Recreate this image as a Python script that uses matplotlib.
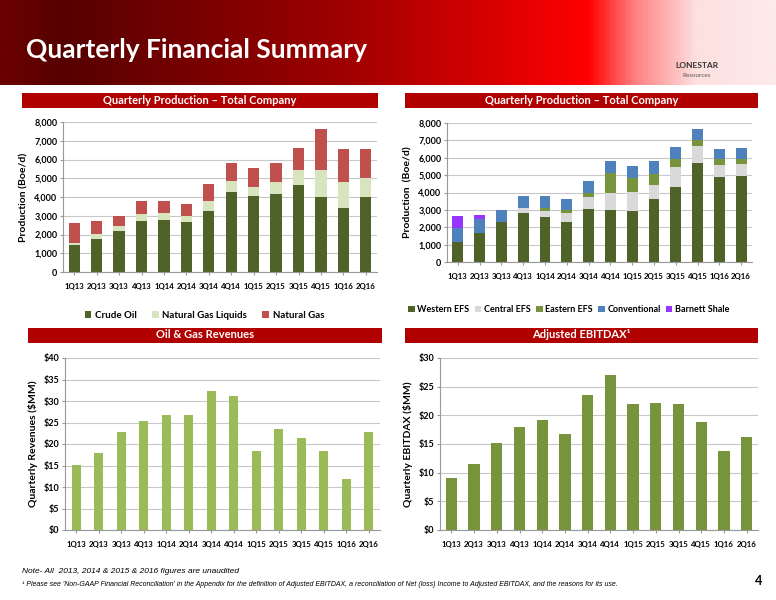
import matplotlib
matplotlib.use("Agg")
import matplotlib.pyplot as plt
import numpy as np
from matplotlib.colors import LinearSegmentedColormap
from matplotlib.patches import Rectangle

plt.rcParams['font.family'] = ['Lato', 'DejaVu Sans']

quarters = ['1Q13','2Q13','3Q13','4Q13','1Q14','2Q14','3Q14','4Q14','1Q15','2Q15','3Q15','4Q15','1Q16','2Q16']

crude = [1450,1750,2180,2730,2770,2650,3270,4280,4050,4170,4640,4020,3430,3980]
ngl = [100,280,270,370,360,350,510,550,510,630,810,1430,1370,1050]
natgas = [1070,670,550,700,670,630,920,970,970,1000,1150,2200,1750,1520]

western = [1150,1680,2280,2820,2580,2280,3040,3000,2950,3630,4290,5700,4870,4950]
central = [0,0,0,280,340,520,710,950,1070,820,1160,950,710,700]
eastern = [0,0,0,0,210,220,230,1150,810,630,500,400,370,300]
conventional = [830,800,720,680,690,580,670,720,720,740,650,580,580,610]
barnett = [660,240,0,0,0,0,0,0,0,0,0,0,0,0]

revenues = [15.2,18.0,22.9,25.4,26.8,26.7,32.3,31.1,18.4,23.5,21.5,18.4,11.8,22.7]
ebitdax = [9.0,11.5,15.2,18.0,19.2,16.8,23.6,27.0,22.0,22.2,21.9,18.9,13.7,16.2]

W, H = 776, 600
fig = plt.figure(figsize=(7.76, 6.0), dpi=100)
fig.patch.set_facecolor('white')

hax = fig.add_axes([0, 1-85/H, 1, 85/H])
cmap = LinearSegmentedColormap.from_list('hdr', [(0,'#6a0000'),(0.08,'#560000'),(0.45,'#a00000'),(0.76,'#ff0000'),(0.82,'#ff8080'),(0.9,'#fde0e0'),(1,'#fdeaea')])
hax.imshow(np.linspace(0,1,400)[None,:], aspect='auto', cmap=cmap, extent=[0,1,0,1])
hax.set_axis_off()
fig.text(26/W, 1-50/H, 'Quarterly Financial Summary', color='white', fontsize=19, fontweight='bold', va='center')
fig.text(697/W, 1-68/H, 'LONESTAR', color='#333333', fontsize=6, ha='center', fontweight='bold')
fig.text(697/W, 1-77/H, 'Resources', color='#555555', fontsize=4.5, ha='center')

def bar_title(x0, x1, y, text):
    fig.patches.append(Rectangle((x0/W, 1-(y+8)/H), (x1-x0)/W, 15/H, transform=fig.transFigure,
                                 facecolor='#b00000', edgecolor='none'))
    fig.text((x0+x1)/2/W, 1-y/H, text, color='white', fontsize=8, fontweight='bold', ha='center', va='center')

bar_title(22, 378, 100, 'Quarterly Production – Total Company')
bar_title(405, 758, 100, 'Quarterly Production – Total Company')
bar_title(28, 382, 335, 'Oil & Gas Revenues')
bar_title(405, 758, 335, 'Adjusted EBITDAX¹')

def style(ax, ymax, step, fmt, ylabel):
    ax.set_ylim(0, ymax)
    ax.set_yticks(np.arange(0, ymax+1e-9, step))
    ax.set_yticklabels([fmt(v) for v in np.arange(0, ymax+1e-9, step)], fontsize=6.5, fontweight='bold')
    ax.set_xlim(-0.5, len(quarters)-0.5)
    ax.set_xticks(range(len(quarters)))
    ax.set_xticklabels(quarters, fontsize=5.6, fontweight='bold')
    ax.yaxis.grid(True, color='#c8c8c8', lw=0.8)
    ax.set_axisbelow(True)
    for s in ['top','right']:
        ax.spines[s].set_visible(False)
    for s in ['left','bottom']:
        ax.spines[s].set_color('#999999')
    ax.tick_params(axis='both', length=2, color='#999999', pad=2)
    ax.tick_params(axis='x', pad=6)
    ax.set_ylabel(ylabel, fontsize=7.5, fontweight='bold')

x = np.arange(len(quarters))
bw = 0.5

ax1 = fig.add_axes([63/W, 1-272/H, 314/W, 150/H])
b = np.zeros(len(x))
for vals, col, lab in [(crude,'#4f6228','Crude Oil'),(ngl,'#d7e4bd','Natural Gas Liquids'),(natgas,'#c0504d','Natural Gas')]:
    ax1.bar(x, vals, bw, bottom=b, color=col, label=lab)
    b += np.array(vals)
style(ax1, 8000, 1000, lambda v: f'{int(v):,}', 'Production (Boe/d)')
ax1.legend(loc='upper center', bbox_to_anchor=(0.45, -0.2), ncol=3, frameon=False,
           handlelength=0.7, handleheight=0.7, columnspacing=1.5, handletextpad=0.4, prop={'weight':'bold','size':7})

ax2 = fig.add_axes([447/W, 1-262/H, 305/W, 139/H])
b = np.zeros(len(x))
for vals, col, lab in [(western,'#4f6228','Western EFS'),(central,'#d9d9d9','Central EFS'),(eastern,'#77933c','Eastern EFS'),
                       (conventional,'#4f81bd','Conventional'),(barnett,'#9933ff','Barnett Shale')]:
    ax2.bar(x, vals, bw, bottom=b, color=col, label=lab)
    b += np.array(vals)
style(ax2, 8000, 1000, lambda v: f'{int(v):,}', 'Production  (Boe/d)')
ax2.legend(loc='upper center', bbox_to_anchor=(0.4, -0.25), ncol=5, frameon=False,
           handlelength=0.7, handleheight=0.7, columnspacing=0.6, handletextpad=0.3, prop={'weight':'bold','size':6.5})

ax3 = fig.add_axes([65/W, 1-530/H, 315/W, 172/H])
ax3.bar(x, revenues, 0.42, color='#9bbb59')
style(ax3, 40, 5, lambda v: f'${int(v)}', 'Quarterly Revenues ($MM)')

ax4 = fig.add_axes([440/W, 1-530/H, 318/W, 172/H])
ax4.bar(x, ebitdax, 0.5, color='#77933c')
style(ax4, 30, 5, lambda v: f'${int(v)}', 'Quarterly EBITDAX ($MM)')

fig.text(22/W, 1-573/H, 'Note- All  2013, 2014 & 2015 & 2016 figures are unaudited', fontsize=6, style='italic', family=['Liberation Sans Narrow','Liberation Sans'])
fig.text(22/W, 1-586/H, "¹ Please see 'Non-GAAP Financial Reconciliation' in the Appendix for the definition of Adjusted EBITDAX, a reconciliation of Net (loss) Income to Adjusted EBITDAX, and the reasons for its use.",
         fontsize=5, style='italic', family=['Liberation Sans Narrow','Liberation Sans'])
fig.text(762/W, 1-585/H, '4', fontsize=9, fontweight='bold', ha='right')

fig.savefig('out.png', dpi=100)
